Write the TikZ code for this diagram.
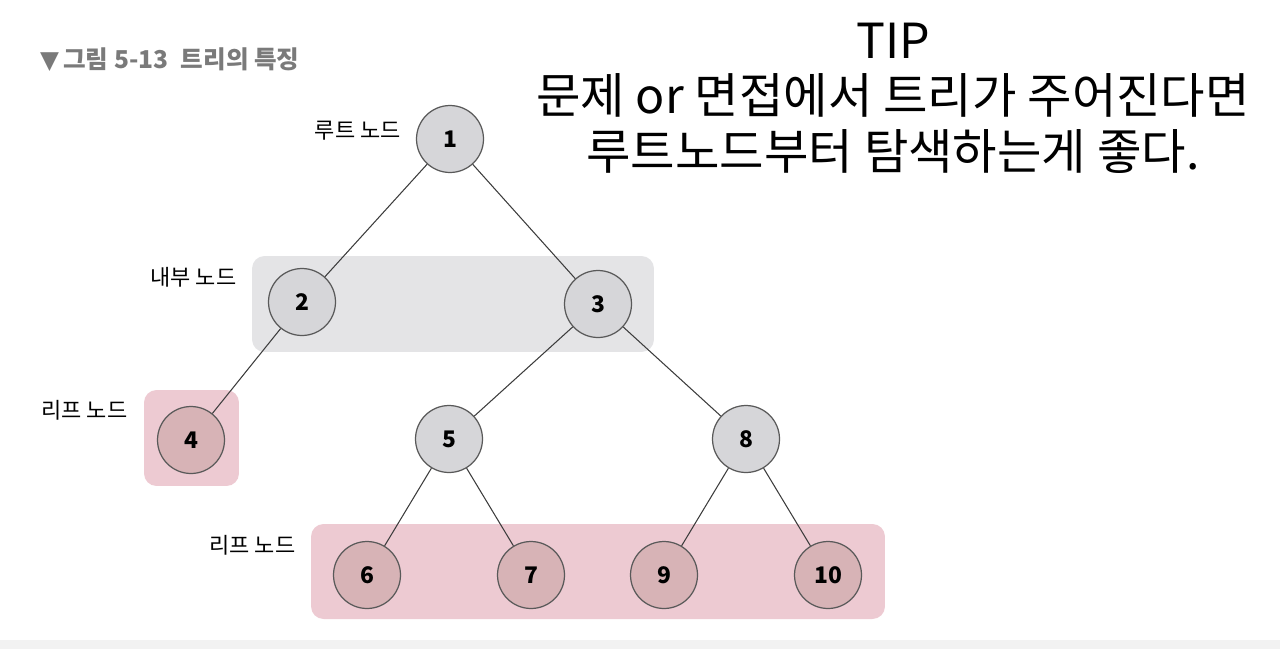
\documentclass[tikz,border=0pt]{standalone}
\usepackage{fontspec}
\setmainfont{Noto Sans CJK KR}
\newfontfamily\symfont{DejaVu Sans}
\usetikzlibrary{positioning}

\definecolor{innerbg}{HTML}{E4E4E6}
\definecolor{leafbg}{HTML}{EDCAD2}
\definecolor{innerfill}{HTML}{D6D6D9}
\definecolor{leaffill}{HTML}{D7B3B6}
\definecolor{edgeclr}{HTML}{3C3C3C}
\definecolor{titleclr}{HTML}{7A7A7A}

\begin{document}
\begin{tikzpicture}[
    x=0.02cm, y=-0.02cm,
    treenode/.style={circle, minimum size=1.34cm, inner sep=0pt, draw=edgeclr!85, line width=0.7pt, fill=innerfill, font=\fontsize{13}{15}\selectfont\bfseries},
    leafnode/.style={treenode, fill=leaffill},
    groupbox/.style={rectangle, rounded corners=0.25cm, inner sep=0pt},
    tag/.style={font=\fontsize{12.5}{14}\selectfont, inner sep=0pt},
    edge/.style={draw=edgeclr, line width=0.6pt}
]
\useasboundingbox (0,0) rectangle (1280,649);
\fill[black!5] (0,640) rectangle (1280,649);

% Title and tip
\node (title) [anchor=west, text=titleclr, font=\fontsize{14}{17}\selectfont\bfseries] at (34,60) {{\symfont\mdseries ▼}\,그림 5-13\enspace 트리의 특징};
\node (tip) [align=center, font=\fontsize{27.5}{31.6}\selectfont] at (893,98) {TIP\\문제 or 면접에서 트리가 주어진다면\\루트노드부터 탐색하는게 좋다.};

% Group boxes
\node (inner) [groupbox, fill=innerbg, minimum width=8.04cm, minimum height=1.92cm] at (453,304) {};
\node (leafa) [groupbox, fill=leafbg, minimum width=1.9cm, minimum height=1.92cm] at (191.5,438) {};
\node (leafb) [groupbox, fill=leafbg, minimum width=11.48cm, minimum height=1.9cm] at (598,571.5) {};

% Nodes
\node (n1) [treenode] at (450,139) {1};
\node (n2) [treenode] at (302,302) {2};
\node (n3) [treenode] at (598,304) {3};
\node (n4) [leafnode] at (191,440) {4};
\node (n5) [treenode] at (449,439) {5};
\node (n8) [treenode] at (746,439) {8};
\node (n6) [leafnode] at (367,575) {6};
\node (n7) [leafnode] at (531,575) {7};
\node (n9) [leafnode] at (664,575) {9};
\node (n10) [leafnode] at (828,575) {10};

% Labels
\node (rootlbl) [tag, left=0.3cm of n1, yshift=0.16cm] {루트 노드};
\node (innerlbl) [tag, left=0.3cm of inner, yshift=0.54cm] {내부 노드};
\node (leaflbla) [tag, left=0.32cm of leafa, yshift=0.56cm] {리프 노드};
\node (leaflblb) [tag, left=0.3cm of leafb, yshift=0.52cm] {리프 노드};

% Edges
\draw [edge] (n1) -- (n2);
\draw [edge] (n1) -- (n3);
\draw [edge] (n2) -- (n4);
\draw [edge] (n3) -- (n5);
\draw [edge] (n3) -- (n8);
\draw [edge] (n5) -- (n6);
\draw [edge] (n5) -- (n7);
\draw [edge] (n8) -- (n9);
\draw [edge] (n8) -- (n10);

\end{tikzpicture}
\end{document}
